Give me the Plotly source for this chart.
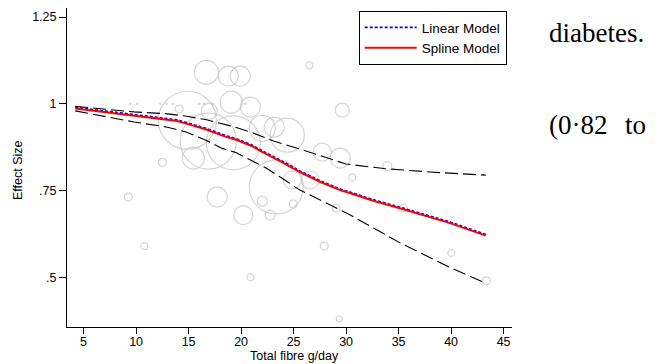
import numpy as np
import plotly.graph_objects as go

# ---- data ----
# study points (fibre g/day, effect size, relative weight)
study_x = [14.88, 16.88, 19.26, 16.69, 18.78, 19.92, 14.11, 16.97, 19.06, 20.88,
           22.02, 23.16, 24.40, 23.35, 24.88, 26.59, 22.02, 22.78, 24.97, 17.73,
           20.21, 15.45, 12.50, 9.26, 10.78, 20.88, 27.92, 29.07, 29.35, 35.45,
           40.02, 43.35, 30.59, 33.92, 27.73, 29.45, 29.64, 26.50,
           9.45, 10.1, 12.3, 12.9, 13.5, 16.0, 16.5, 17.3, 20.4]
study_y = [0.953, 0.893, 0.888, 1.091, 1.080, 1.080, 0.985, 0.979, 1.005, 0.991,
           0.930, 0.933, 0.910, 0.761, 0.781, 0.781, 0.720, 0.680, 0.712, 0.732,
           0.680, 0.844, 0.832, 0.732, 0.591, 0.501, 0.591, 0.700, 0.381, 0.700,
           0.571, 0.491, 0.789, 0.821, 0.861, 0.844, 0.982, 1.111,
           1.0, 1.0, 1.0, 1.0, 1.0, 1.0, 1.0, 1.0, 1.0]
study_w = [8.41, 7.84, 7.29, 1.44, 1.00, 1.00, 0.16, 0.64, 1.21, 1.00,
           1.69, 1.00, 2.89, 7.29, 0.81, 0.81, 0.25, 0.25, 0.16, 1.00,
           0.90, 1.21, 0.16, 0.16, 0.12, 0.12, 0.16, 0.16, 0.09, 0.16,
           0.12, 0.16, 0.12, 0.20, 0.81, 1.00, 0.49, 0.12,
           0.005, 0.005, 0.005, 0.005, 0.005, 0.005, 0.005, 0.005, 0.005]

# spline model
spline_x = [4.2, 7.0, 9.8, 12.3, 13.9, 14.7, 16.6, 18.5, 19.0, 19.6, 21.0, 22.0,
            23.8, 25.6, 27.5, 29.5, 30.5, 32.5, 35.2, 37.5, 39.9, 43.3]
spline_y = [0.987, 0.976, 0.965, 0.957, 0.951, 0.944, 0.927, 0.906, 0.901, 0.896,
            0.879, 0.862, 0.834, 0.804, 0.776, 0.751, 0.742, 0.722, 0.699, 0.678,
            0.657, 0.621]
# linear model (nearly coincident, just above the spline)
linear_y = [0.990, 0.979, 0.968, 0.960, 0.954, 0.947, 0.930, 0.909, 0.904, 0.899,
            0.882, 0.865, 0.837, 0.807, 0.779, 0.754, 0.745, 0.725, 0.702, 0.681,
            0.660, 0.624]

# confidence bounds
upper_x = [4.2, 7.0, 9.8, 12.8, 14.7, 16.6, 19.1, 21.0, 23.1, 25.6, 27.9, 30.0,
           33.6, 38.0, 43.3]
upper_y = [0.993, 0.985, 0.977, 0.972, 0.965, 0.955, 0.936, 0.918, 0.893, 0.870,
           0.848, 0.827, 0.814, 0.804, 0.795]
lower_x = [4.2, 7.0, 9.8, 12.8, 14.7, 16.6, 18.2, 19.5, 21.0, 22.3, 23.8, 25.6,
           27.9, 30.4, 35.2, 40.0, 43.3]
lower_y = [0.980, 0.964, 0.948, 0.934, 0.920, 0.896, 0.872, 0.860, 0.838, 0.817,
           0.788, 0.752, 0.718, 0.680, 0.599, 0.528, 0.484]

x_ticks = [5, 10, 15, 20, 25, 30, 35, 40, 45]
y_ticks = [0.5, 0.75, 1.0, 1.25]
y_tick_labels = [".5", ".75", "1", "1.25"]

# ---- figure ----
# the page places the figure 8px in from the top-left corner of the window
OFF = 8
W, H = 659 - OFF, 364 - OFF
L, R, T, B = 67 - OFF, 147, 8 - OFF, 37
PW, PH = W - L - R, H - T - B


def px_x(p):
    return (p - OFF - L) / PW


def px_y(p):
    return (H - B - (p - OFF)) / PH


sizes = 20 * np.sqrt(np.array(study_w))

fig = go.Figure()
fig.add_trace(go.Scatter(
    x=study_x, y=study_y, mode="markers", showlegend=False, hoverinfo="skip",
    marker=dict(size=sizes, sizemode="diameter", color="rgba(0,0,0,0)",
                line=dict(color="#c4c4c4", width=1.2))))
fig.add_trace(go.Scatter(x=upper_x, y=upper_y, mode="lines", showlegend=False,
                         line=dict(color="black", width=1.1, dash="13px,5px")))
fig.add_trace(go.Scatter(x=lower_x, y=lower_y, mode="lines", showlegend=False,
                         line=dict(color="black", width=1.1, dash="13px,5px")))
fig.add_trace(go.Scatter(x=spline_x, y=linear_y, mode="lines", name="Linear Model",
                         line=dict(color="#0000ff", width=1.8, dash="3px,2px")))
fig.add_trace(go.Scatter(x=spline_x, y=spline_y, mode="lines", name="Spline Model",
                         line=dict(color="#ff0000", width=2.0)))

axis_font = dict(family="Liberation Sans, Arial, sans-serif", size=12.5, color="black")

fig.update_layout(
    width=W, height=H,
    margin=dict(l=L, r=R, t=T, b=B, autoexpand=False),
    paper_bgcolor="white", plot_bgcolor="white",
    font=axis_font,
    xaxis=dict(range=[3.42, 45.8], tickvals=x_ticks, showgrid=False, zeroline=False,
               showline=True, linecolor="black", linewidth=1, ticks="outside",
               ticklen=6, tickcolor="black", tickfont=axis_font, automargin=False,
               ticklabelstandoff=-3),
    yaxis=dict(range=[0.358, 1.276], tickvals=y_ticks, ticktext=y_tick_labels,
               showgrid=False, zeroline=False, showline=True, linecolor="black",
               linewidth=1, ticks="outside", ticklen=7, tickcolor="black",
               tickfont=axis_font, automargin=False),
    legend=dict(x=px_x(506.7), y=px_y(11), xanchor="right", yanchor="top",
                bordercolor="black", borderwidth=1, bgcolor="white",
                font=dict(family="Liberation Sans, Arial, sans-serif", size=13.5,
                          color="black"),
                itemwidth=52, tracegroupgap=0),
)

fig.add_annotation(text="Total fibre g/day", xref="paper", yref="paper",
                   x=px_x(294), y=px_y(356), xanchor="center", yanchor="middle",
                   showarrow=False, font=axis_font)
fig.add_annotation(text="Effect Size", xref="paper", yref="paper",
                   x=px_x(18), y=px_y(170), xanchor="center", yanchor="middle",
                   textangle=-90, showarrow=False, font=axis_font)

serif = dict(family="Liberation Serif, Times New Roman, serif", size=27, color="black")
fig.add_annotation(text="diabetes.", xref="paper", yref="paper",
                   x=px_x(547), y=px_y(33), xanchor="left", yanchor="middle",
                   showarrow=False, font=serif)
fig.add_annotation(text="(0·82", xref="paper", yref="paper",
                   x=px_x(547), y=px_y(125), xanchor="left", yanchor="middle",
                   showarrow=False, font=serif)
fig.add_annotation(text="to", xref="paper", yref="paper",
                   x=px_x(623), y=px_y(125), xanchor="left", yanchor="middle",
                   showarrow=False, font=serif)

fig.write_html("out.html")
